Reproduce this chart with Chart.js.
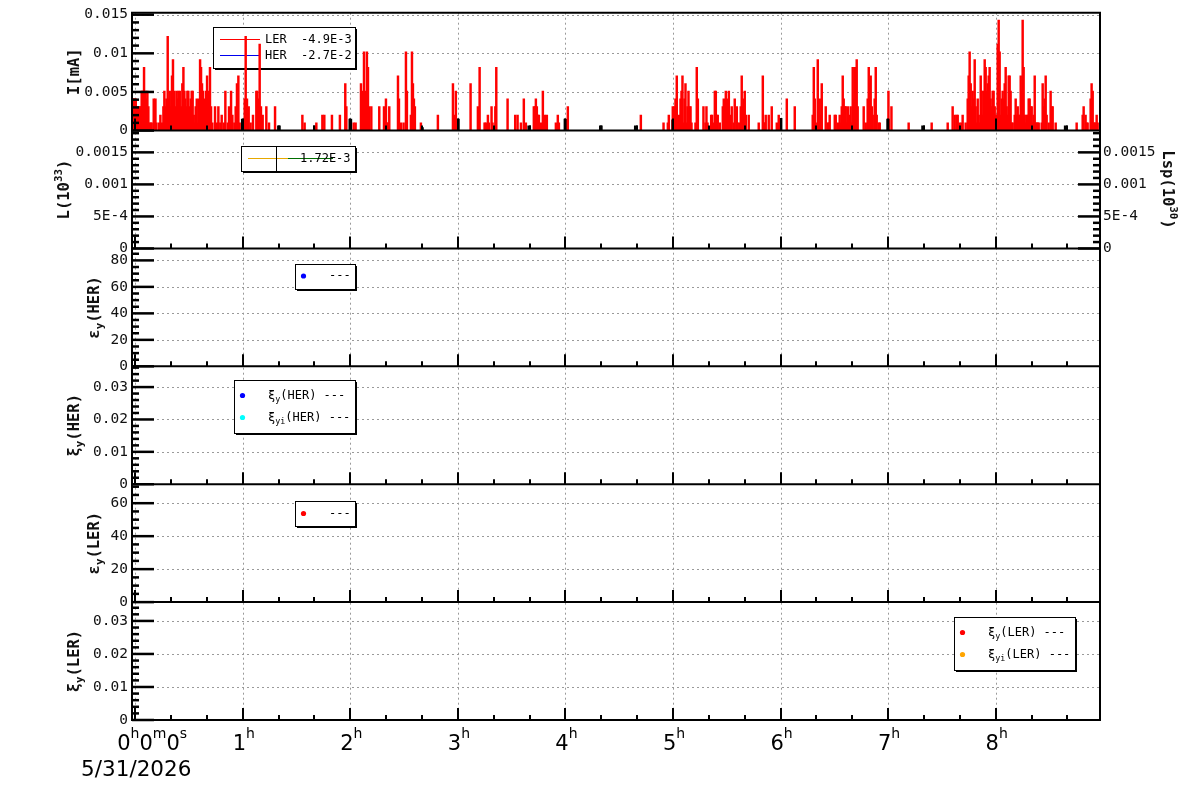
<!DOCTYPE html>
<html>
<head>
<meta charset="utf-8">
<script src="https://cdn.jsdelivr.net/npm/chart.js@4.4.1/dist/chart.umd.min.js"></script>
<style>
  html, body { margin: 0; padding: 0; background: #fff; }
</style>
</head>
<body>
<canvas id="beamChart" width="1200" height="798"></canvas>
<script>
// x axis: hours since 0h0m0s on 5/31/2026
var hourTicks = [0, 1, 2, 3, 4, 5, 6, 7, 8];
var hourLabels = ['0h0m0s', '1h', '2h', '3h', '4h', '5h', '6h', '7h', '8h'];
var dateLabel = '5/31/2026';

// LER current spikes (red), time in hours, current in mA
var lerTimes = [
    -0.023, -0.014, -0.005, 0.005, 0.011, 0.023, 0.033, 0.042, 0.051, 0.060,
    0.070, 0.082, 0.095, 0.104, 0.113, 0.122, 0.132, 0.144, 0.153, 0.172,
    0.188, 0.197, 0.221, 0.234, 0.249, 0.262, 0.271, 0.281, 0.290, 0.302,
    0.311, 0.321, 0.333, 0.342, 0.351, 0.361, 0.373, 0.383, 0.392, 0.401,
    0.414, 0.423, 0.429, 0.438, 0.448, 0.457, 0.466, 0.476, 0.485, 0.494,
    0.507, 0.516, 0.525, 0.534, 0.544, 0.553, 0.562, 0.572, 0.584, 0.593,
    0.603, 0.612, 0.621, 0.630, 0.640, 0.649, 0.658, 0.668, 0.677, 0.686,
    0.695, 0.705, 0.717, 0.742, 0.761, 0.773, 0.791, 0.804, 0.826, 0.838,
    0.860, 0.872, 0.891, 0.903, 0.922, 0.934, 0.946, 0.959, 0.971, 1.018,
    1.027, 1.039, 1.055, 1.073, 1.095, 1.126, 1.135, 1.145, 1.157, 1.169,
    1.185, 1.219, 1.244, 1.300, 1.554, 1.575, 1.684, 1.740, 1.758,
    1.829, 1.903, 1.953, 1.963, 2.031, 2.049, 2.099, 2.108, 2.117, 2.127,
    2.136, 2.145, 2.154, 2.164, 2.173, 2.195, 2.269, 2.313, 2.322, 2.331,
    2.340, 2.350, 2.362, 2.443, 2.452, 2.470, 2.495, 2.517, 2.526, 2.563,
    2.573, 2.582, 2.591, 2.600, 2.656, 2.814, 2.954, 2.963, 2.981, 3.118,
    3.186, 3.202, 3.248, 3.260, 3.279, 3.288, 3.313, 3.322, 3.348, 3.357,
    3.462, 3.533, 3.555,
    3.586, 3.613, 3.632, 3.706, 3.716, 3.725, 3.734, 3.744, 3.753, 3.771,
    3.790, 3.809, 3.827, 3.911, 3.929, 3.939, 4.022, 4.701, 4.912, 4.952,
    4.961, 4.998, 5.014, 5.023, 5.035, 5.054, 5.070, 5.079, 5.088, 5.098,
    5.107, 5.116, 5.126, 5.135, 5.144, 5.153, 5.163, 5.172, 5.209, 5.221,
    5.231, 5.283, 5.302, 5.311, 5.321, 5.355, 5.364, 5.383,
    5.389, 5.398, 5.407, 5.416, 5.435, 5.463, 5.472, 5.481, 5.491, 5.500,
    5.509, 5.519, 5.528, 5.546, 5.565, 5.574, 5.593, 5.602, 5.621, 5.630,
    5.639, 5.649, 5.658, 5.667, 5.677, 5.704, 5.797, 5.835, 5.844, 5.853,
    5.862, 5.890, 5.918, 5.965, 5.983, 6.058, 6.132, 6.299, 6.309, 6.318,
    6.327, 6.346, 6.355, 6.364, 6.374, 6.383, 6.420, 6.439, 6.448, 6.457,
    6.504, 6.513, 6.532, 6.550, 6.559, 6.569, 6.578, 6.587, 6.597, 6.606,
    6.615, 6.625, 6.634, 6.643, 6.652, 6.662, 6.671, 6.680, 6.690, 6.699,
    6.708, 6.717, 6.773, 6.792, 6.810, 6.820, 6.829, 6.838, 6.848, 6.857,
    6.875, 6.885, 6.894, 6.913, 6.922, 7.003, 7.031, 7.191,
    7.405, 7.554, 7.600, 7.619, 7.637, 7.647, 7.665, 7.684, 7.693, 7.721,
    7.740, 7.749, 7.758, 7.768, 7.777, 7.786, 7.796, 7.805, 7.814, 7.823,
    7.833, 7.842, 7.851, 7.861, 7.870, 7.879, 7.888, 7.898, 7.907, 7.916,
    7.926, 7.935, 7.944, 7.953, 7.963, 7.972, 7.981, 7.991, 8.000, 8.009,
    8.019, 8.028, 8.037, 8.046, 8.056, 8.065, 8.074, 8.084, 8.093, 8.102,
    8.112, 8.121, 8.130, 8.139, 8.149, 8.158, 8.177, 8.186, 8.195, 8.205,
    8.214, 8.223, 8.233, 8.242, 8.251, 8.260, 8.270, 8.279, 8.288, 8.298,
    8.307, 8.316, 8.325, 8.335, 8.344, 8.353, 8.363, 8.372, 8.381, 8.391,
    8.400, 8.428, 8.437, 8.446, 8.456, 8.465, 8.474, 8.493, 8.511, 8.520,
    8.530, 8.558, 8.753, 8.809, 8.818, 8.836, 8.846, 8.855, 8.883, 8.892,
    8.902, 8.911, 8.920, 8.930, 8.939, 8.948
];
var lerCurrent = [
    0.0041, 0.0041, 0.0041, 0.0041, 0.0031, 0.0031, 0.0031, 0.0031, 0.0031, 0.0051,
    0.0051, 0.0082, 0.0051, 0.0041, 0.0051, 0.0031, 0.0010, 0.0010, 0.0010, 0.0041,
    0.0041, 0.0010, 0.0010, 0.0020, 0.0010, 0.0031, 0.0051, 0.0031, 0.0041, 0.0122,
    0.0041, 0.0051, 0.0031, 0.0071, 0.0092, 0.0051, 0.0031, 0.0051, 0.0041, 0.0051,
    0.0051, 0.0020, 0.0031, 0.0061, 0.0082, 0.0051, 0.0041, 0.0031, 0.0051, 0.0051,
    0.0031, 0.0041, 0.0051, 0.0051, 0.0020, 0.0010, 0.0031, 0.0041, 0.0010, 0.0041,
    0.0092, 0.0082, 0.0061, 0.0051, 0.0041, 0.0031, 0.0051, 0.0071, 0.0041, 0.0051,
    0.0082, 0.0031, 0.0010, 0.0031, 0.0010, 0.0031, 0.0010, 0.0020, 0.0010, 0.0051,
    0.0010, 0.0031, 0.0051, 0.0020, 0.0010, 0.0031, 0.0061, 0.0071, 0.0010, 0.0041,
    0.0122, 0.0041, 0.0031, 0.0010, 0.0020, 0.0051, 0.0051, 0.0041, 0.0112, 0.0031,
    0.0020, 0.0031, 0.0010, 0.0031, 0.0020, 0.0010, 0.0010, 0.0020, 0.0020,
    0.0020, 0.0020, 0.0061, 0.0031, 0.0010, 0.0010, 0.0061, 0.0051, 0.0020, 0.0102,
    0.0031, 0.0051, 0.0102, 0.0082, 0.0031, 0.0031, 0.0031, 0.0031, 0.0020, 0.0041,
    0.0010, 0.0010, 0.0031, 0.0071, 0.0041, 0.0010, 0.0010, 0.0102, 0.0051, 0.0020,
    0.0102, 0.0061, 0.0041, 0.0031, 0.0010, 0.0020, 0.0061, 0.0020, 0.0051, 0.0061,
    0.0031, 0.0082, 0.0010, 0.0010, 0.0020, 0.0010, 0.0031, 0.0010, 0.0031, 0.0082,
    0.0041, 0.0020, 0.0020,
    0.0010, 0.0041, 0.0010, 0.0031, 0.0031, 0.0041, 0.0031, 0.0020, 0.0020, 0.0010,
    0.0051, 0.0020, 0.0020, 0.0010, 0.0020, 0.0010, 0.0031, 0.0020, 0.0010, 0.0010,
    0.0020, 0.0031, 0.0031, 0.0041, 0.0071, 0.0020, 0.0041, 0.0051, 0.0071, 0.0010,
    0.0041, 0.0061, 0.0010, 0.0031, 0.0051, 0.0031, 0.0031, 0.0010, 0.0010, 0.0082,
    0.0041, 0.0031, 0.0010, 0.0031, 0.0010, 0.0020, 0.0020, 0.0010,
    0.0051, 0.0051, 0.0020, 0.0020, 0.0010, 0.0031, 0.0041, 0.0031, 0.0051, 0.0020,
    0.0041, 0.0051, 0.0020, 0.0031, 0.0010, 0.0041, 0.0031, 0.0010, 0.0010, 0.0031,
    0.0071, 0.0031, 0.0041, 0.0051, 0.0020, 0.0020, 0.0010, 0.0071, 0.0010, 0.0010,
    0.0020, 0.0020, 0.0031, 0.0010, 0.0020, 0.0041, 0.0031, 0.0020, 0.0082, 0.0041,
    0.0010, 0.0092, 0.0031, 0.0041, 0.0020, 0.0061, 0.0031, 0.0010, 0.0010, 0.0020,
    0.0020, 0.0020, 0.0010, 0.0020, 0.0010, 0.0031, 0.0071, 0.0041, 0.0031, 0.0031,
    0.0010, 0.0031, 0.0010, 0.0020, 0.0031, 0.0010, 0.0082, 0.0041, 0.0082, 0.0051,
    0.0092, 0.0031, 0.0031, 0.0010, 0.0041, 0.0082, 0.0061, 0.0071, 0.0031, 0.0020,
    0.0041, 0.0082, 0.0020, 0.0010, 0.0010, 0.0051, 0.0031, 0.0010,
    0.0010, 0.0010, 0.0031, 0.0020, 0.0020, 0.0020, 0.0010, 0.0010, 0.0020, 0.0010,
    0.0041, 0.0071, 0.0102, 0.0061, 0.0031, 0.0051, 0.0041, 0.0092, 0.0031, 0.0010,
    0.0041, 0.0020, 0.0010, 0.0071, 0.0051, 0.0020, 0.0051, 0.0092, 0.0082, 0.0051,
    0.0061, 0.0071, 0.0082, 0.0041, 0.0031, 0.0051, 0.0051, 0.0031, 0.0020, 0.0020,
    0.0112, 0.0143, 0.0102, 0.0020, 0.0041, 0.0051, 0.0041, 0.0061, 0.0082, 0.0031,
    0.0020, 0.0071, 0.0071, 0.0051, 0.0010, 0.0010, 0.0020, 0.0041, 0.0020, 0.0031,
    0.0020, 0.0020, 0.0071, 0.0051, 0.0143, 0.0082, 0.0020, 0.0010, 0.0020, 0.0020,
    0.0041, 0.0041, 0.0031, 0.0031, 0.0010, 0.0020, 0.0071, 0.0010, 0.0010, 0.0010,
    0.0010, 0.0010, 0.0061, 0.0031, 0.0041, 0.0071, 0.0020, 0.0010, 0.0051, 0.0031,
    0.0031, 0.0010, 0.0010, 0.0020, 0.0031, 0.0020, 0.0010, 0.0010, 0.0041, 0.0061,
    0.0051, 0.0010, 0.0010, 0.0010, 0.0020, 0.0010
];

// small black steps near the baseline
var herTimes = [1.000, 1.336, 1.671, 2.000, 2.666, 3.000, 3.663, 4.000, 4.329, 4.654, 5.000, 6.000, 7.000, 7.325, 8.651];
var herCurrent = [0.0015, 0.0006, 0.0006, 0.0015, 0.0004, 0.0015, 0.0006, 0.0015, 0.0006, 0.0006, 0.0014, 0.0016, 0.0015, 0.0006, 0.0006];

// the six stacked panels, top to bottom
var panelIds = ['yI', 'yL', 'yEh', 'yXh', 'yEl', 'yXl'];
var panelMax = [0.01526, 0.00184, 89, 0.0364, 71.5, 0.0357];
var panelTicks = [
    [0, 0.005, 0.01, 0.015],
    [0, 0.0005, 0.001, 0.0015],
    [0, 20, 40, 60, 80],
    [0, 0.01, 0.02, 0.03],
    [0, 20, 40, 60],
    [0, 0.01, 0.02, 0.03]
];
var panelTickLabels = [
    ['0', '0.005', '0.01', '0.015'],
    ['0', '5E-4', '0.001', '0.0015'],
    ['0', '20', '40', '60', '80'],
    ['0', '0.01', '0.02', '0.03'],
    ['0', '20', '40', '60'],
    ['0', '0.01', '0.02', '0.03']
];
var panelMinor = [0.001, 0.0001, 5, 0.002, 5, 0.002];
var lspTicks = [0, 0.0005, 0.001, 0.0015];
var lspTickLabels = ['0', '5E-4', '0.001', '0.0015'];

// axis titles: [text, 0 normal / 1 superscript / -1 subscript]
var panelTitles = [
    [['I[mA]', 0]],
    [['L(10', 0], ['33', 1], [')', 0]],
    [['\u03b5', 0], ['y', -1], ['(HER)', 0]],
    [['\u03be', 0], ['y', -1], ['(HER)', 0]],
    [['\u03b5', 0], ['y', -1], ['(LER)', 0]],
    [['\u03be', 0], ['y', -1], ['(LER)', 0]]
];
var titleX = [75, 65, 95, 75, 95, 75];
var lspTitle = [['Lsp(10', 0], ['30', 1], [')', 0]];

var legends = [
    { box: [213, 27, 142, 41], items: [
        { kind: 'line', colors: ['#ff0000'], x: 220, y: 39.5, tx: 265, parts: [['LER  -4.9E-3', 0]] },
        { kind: 'line', colors: ['#0000ee'], x: 220, y: 55.5, tx: 265, parts: [['HER  -2.7E-2', 0]] }
    ] },
    { box: [241, 146, 114, 25], items: [
        { kind: 'line', colors: ['#e6a800', '#006e00'], x: 248, y: 158.5, tx: 300, bar: 276.5, parts: [['1.72E-3', 0]] }
    ] },
    { box: [295, 264, 60, 25], items: [
        { kind: 'dot', color: '#0000ff', x: 303.5, y: 276, tx: 329, parts: [['---', 0]] }
    ] },
    { box: [234, 380, 121, 53], items: [
        { kind: 'dot', color: '#0000ff', x: 242.5, y: 395.5, tx: 268, parts: [['\u03be', 0], ['y', -1], ['(HER) ---', 0]] },
        { kind: 'dot', color: '#00ffff', x: 242.5, y: 417.5, tx: 268, parts: [['\u03be', 0], ['yi', -1], ['(HER) ---', 0]] }
    ] },
    { box: [295, 501, 60, 25], items: [
        { kind: 'dot', color: '#ff0000', x: 303.5, y: 513.5, tx: 329, parts: [['---', 0]] }
    ] },
    { box: [954, 617, 121, 53], items: [
        { kind: 'dot', color: '#ff0000', x: 962.5, y: 632.5, tx: 988, parts: [['\u03be', 0], ['y', -1], ['(LER) ---', 0]] },
        { kind: 'dot', color: '#ffa500', x: 962.5, y: 654.5, tx: 988, parts: [['\u03be', 0], ['yi', -1], ['(LER) ---', 0]] }
    ] }
];

var MONO = '"DejaVu Sans Mono", monospace';
var SANS = '"DejaVu Sans", sans-serif';

function line(ctx, x1, y1, x2, y2) {
    ctx.beginPath();
    ctx.moveTo(x1, y1);
    ctx.lineTo(x2, y2);
    ctx.stroke();
}

// text with sub/superscripts, centered (or left aligned) and rotated
function richText(ctx, parts, x, y, rot, size, bold, alignLeft) {
    var font = function (s) { return (bold ? 'bold ' : '') + s + 'px ' + MONO; };
    var widths = [];
    var total = 0;
    parts.forEach(function (p) {
        ctx.font = font(p[1] ? size * 0.7 : size);
        var w = ctx.measureText(p[0]).width;
        widths.push(w);
        total += w;
    });
    ctx.save();
    ctx.translate(x, y);
    ctx.rotate(rot);
    ctx.textAlign = 'left';
    ctx.textBaseline = 'middle';
    var cx = alignLeft ? 0 : -total / 2;
    parts.forEach(function (p, i) {
        ctx.font = font(p[1] ? size * 0.7 : size);
        var dy = p[1] === 1 ? -size * 0.4 : (p[1] === -1 ? size * 0.35 : 0);
        ctx.fillText(p[0], cx, dy);
        cx += widths[i];
    });
    ctx.restore();
}

function drawLegend(ctx, lg) {
    var b = lg.box;
    ctx.fillStyle = '#000';
    ctx.fillRect(b[0] + 2, b[1] + 2, b[2], b[3]);
    ctx.fillStyle = '#fff';
    ctx.fillRect(b[0], b[1], b[2], b[3]);
    ctx.strokeStyle = '#000';
    ctx.lineWidth = 1;
    ctx.strokeRect(b[0] + 0.5, b[1] + 0.5, b[2], b[3]);
    lg.items.forEach(function (it) {
        if (it.kind === 'line') {
            ctx.lineWidth = 1;
            it.colors.forEach(function (c, k) {
                ctx.strokeStyle = c;
                line(ctx, it.x + k * 40, it.y, it.x + (k + 1) * 40 + (k ? 5 : 0), it.y);
            });
            if (it.bar) {
                ctx.strokeStyle = '#000';
                line(ctx, it.bar, b[1], it.bar, b[1] + b[3]);
            }
        } else {
            ctx.fillStyle = it.color;
            ctx.beginPath();
            ctx.arc(it.x, it.y, 2.6, 0, Math.PI * 2);
            ctx.fill();
        }
        ctx.fillStyle = '#000';
        richText(ctx, it.parts, it.tx, it.y, 0, 12, false, true);
    });
}

function drawTimeLabel(ctx, text, x, y, alignLeft) {
    var segs = text.split(/([a-z])/).filter(function (s) { return s; }).map(function (s) {
        return { t: s, sup: /[a-z]/.test(s) };
    });
    var total = 0;
    segs.forEach(function (s) {
        ctx.font = (s.sup ? 14 : 21) + 'px ' + SANS;
        s.w = ctx.measureText(s.t).width;
        total += s.w;
    });
    var cx = alignLeft ? x : x - total / 2;
    segs.forEach(function (s) {
        ctx.font = (s.sup ? 14 : 21) + 'px ' + SANS;
        ctx.fillText(s.t, cx, s.sup ? y - 12 : y);
        cx += s.w;
    });
}

var rootStyle = {
    id: 'rootStyle',
    beforeDatasetsDraw: function (chart) {
        var ctx = chart.ctx, a = chart.chartArea, xs = chart.scales.x;
        ctx.save();
        ctx.strokeStyle = '#9a9a9a';
        ctx.lineWidth = 1;
        ctx.setLineDash([2, 3]);
        hourTicks.forEach(function (h) {
            var px = Math.round(xs.getPixelForValue(h)) + 0.5;
            line(ctx, px, a.top, px, a.bottom);
        });
        panelIds.forEach(function (id, i) {
            var s = chart.scales[id];
            panelTicks[i].forEach(function (v) {
                if (v === 0) return;
                var py = Math.round(s.getPixelForValue(v)) + 0.5;
                line(ctx, a.left, py, a.right, py);
            });
        });
        ctx.setLineDash([]);
        legends.forEach(function (lg) { drawLegend(ctx, lg); });
        ctx.restore();
    },
    afterDatasetsDraw: function (chart) {
        var ctx = chart.ctx, a = chart.chartArea, xs = chart.scales.x;
        ctx.save();
        ctx.strokeStyle = '#000';
        ctx.fillStyle = '#000';

        panelIds.forEach(function (id, i) {
            var s = chart.scales[id];
            // inward y ticks
            ctx.lineWidth = 2.5;
            var n = Math.floor(panelMax[i] / panelMinor[i] + 1e-6);
            for (var k = 0; k <= n; k++) {
                var v = k * panelMinor[i];
                var major = panelTicks[i].some(function (t) { return Math.abs(t - v) < panelMinor[i] / 10; });
                var py = s.getPixelForValue(v);
                line(ctx, a.left, py, a.left + (major ? 22 : 7), py);
            }
            // inward x ticks on each panel bottom
            ctx.lineWidth = 2;
            for (var m = 0; m <= 26; m++) {
                var px = Math.round(xs.getPixelForValue(m / 3));
                line(ctx, px, s.bottom, px, s.bottom - (m % 3 === 0 ? 12 : 5));
            }
            // panel separator
            ctx.lineWidth = 2;
            line(ctx, a.left - 1, s.bottom, a.right + 1, s.bottom);
        });

        // Lsp axis on the right of the luminosity panel
        var sl = chart.scales.yL;
        ctx.lineWidth = 2.5;
        for (var k2 = 0; k2 <= 18; k2++) {
            var v2 = k2 * 0.0001;
            var maj = lspTicks.some(function (t) { return Math.abs(t - v2) < 0.00001; });
            var py2 = sl.getPixelForValue(v2);
            line(ctx, a.right, py2, a.right - (maj ? 22 : 7), py2);
        }
        ctx.font = '14.5px ' + MONO;
        ctx.textAlign = 'left';
        ctx.textBaseline = 'middle';
        ctx.fillStyle = '#111';
        lspTicks.forEach(function (v, i) {
            ctx.fillText(lspTickLabels[i], a.right + 3, sl.getPixelForValue(v));
        });

        // frame
        ctx.lineWidth = 2;
        ctx.strokeStyle = '#000';
        line(ctx, a.left - 1, a.top, a.right + 1, a.top);
        line(ctx, a.left, a.top, a.left, a.bottom);
        line(ctx, a.right, a.top, a.right, a.bottom);

        // axis titles
        ctx.fillStyle = '#111';
        panelIds.forEach(function (id, i) {
            var s = chart.scales[id];
            richText(ctx, panelTitles[i], titleX[i], (s.top + s.bottom) / 2, -Math.PI / 2, 15.5, true, false);
        });
        richText(ctx, lspTitle, 1167, (sl.top + sl.bottom) / 2, Math.PI / 2, 15.5, true, false);

        // time labels
        ctx.fillStyle = '#000';
        ctx.textAlign = 'left';
        ctx.textBaseline = 'alphabetic';
        hourTicks.forEach(function (h, i) {
            var px = xs.getPixelForValue(h);
            if (i === 0) {
                drawTimeLabel(ctx, hourLabels[i], px - 18, 750, true);
            } else {
                drawTimeLabel(ctx, hourLabels[i], px + 1, 750, false);
            }
        });
        ctx.font = '21.5px ' + SANS;
        ctx.textAlign = 'center';
        ctx.fillText(dateLabel, xs.getPixelForValue(0) + 1, 776);
        ctx.restore();
    }
};

var scales = {
    x: {
        type: 'linear',
        position: 'bottom',
        offset: false,
        min: -0.03,
        max: 8.97,
        grid: { display: false, drawTicks: false, offset: false },
        border: { display: false },
        ticks: { display: false },
        afterBuildTicks: function (s) { s.ticks = hourTicks.map(function (v) { return { value: v }; }); },
        afterFit: function (s) { s.height = 78; }
    }
};
panelIds.forEach(function (id, i) {
    scales[id] = {
        type: 'linear',
        position: 'left',
        stack: 'panels',
        stackWeight: 1,
        weight: 6 - i,
        offset: false,
        min: 0,
        max: panelMax[i],
        grid: { display: false, drawTicks: false },
        border: { display: false },
        afterBuildTicks: function (s) { s.ticks = panelTicks[i].map(function (v) { return { value: v }; }); },
        afterFit: function (s) { s.width = 132; },
        ticks: {
            autoSkip: false,
            padding: 4,
            color: '#111',
            font: { family: 'DejaVu Sans Mono', size: 14.5 },
            callback: function (value, index) { return panelTickLabels[i][index]; }
        }
    };
});

var ctx = document.getElementById('beamChart').getContext('2d');
var beamChart = new Chart(ctx, {
    type: 'bar',
    data: {
        datasets: [{
            label: 'LER',
            data: lerTimes.map(function (t, i) { return { x: t, y: lerCurrent[i] }; }),
            backgroundColor: '#ff0000',
            borderWidth: 0,
            barThickness: 1.8,
            grouped: false,
            order: 1,
            xAxisID: 'x',
            yAxisID: 'yI'
        }, {
            label: 'HER',
            data: herTimes.map(function (t, i) { return { x: t, y: herCurrent[i] }; }),
            backgroundColor: '#000000',
            borderWidth: 0,
            barThickness: 3,
            grouped: false,
            order: 2,
            xAxisID: 'x',
            yAxisID: 'yI'
        }]
    },
    options: {
        responsive: false,
        animation: false,
        devicePixelRatio: 1,
        layout: { padding: { left: 0, right: 100, top: 10, bottom: 0 } },
        plugins: {
            legend: { display: false },
            tooltip: { enabled: false }
        },
        scales: scales
    },
    plugins: [rootStyle]
});
</script>
</body>
</html>
